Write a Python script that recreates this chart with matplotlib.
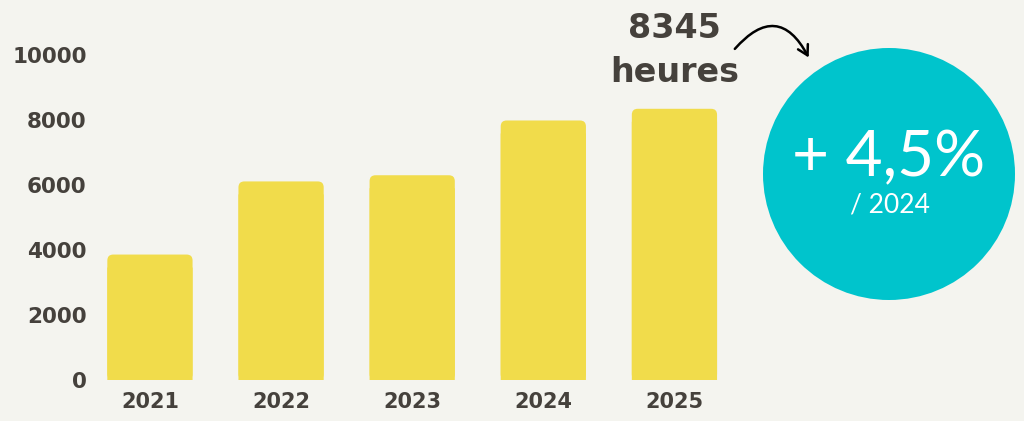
import matplotlib
matplotlib.use("Agg")
from matplotlib import pyplot as plt
from matplotlib.patches import FancyBboxPatch, Circle, FancyArrowPatch

# data
years = ["2021", "2022", "2023", "2024", "2025"]
hours = [3860, 6110, 6300, 7985, 8345]
yticks = [0, 2000, 4000, 6000, 8000, 10000]

bg = "#f4f4ef"
bar_color = "#f1dc4b"
teal = "#00c4cc"
dark = "#45413c"

W, H = 1024, 421
fig = plt.figure(figsize=(W / 100, H / 100), dpi=100, facecolor=bg)

# main axes, placed in pixels
left, right, bottom, top = 95, 740, 380, 55
ax = fig.add_axes([left / W, (H - bottom) / H, (right - left) / W, (bottom - top) / H])
ax.set_facecolor(bg)
ax.set_xlim(-(150 - left) / 131.25, 4.5)
ax.set_ylim(0, 10000)

# rounded-top bars
bw = 0.65
asp = (10000 / (bottom - top)) * 131.25
for i, h in enumerate(hours):
    p = FancyBboxPatch((i - bw / 2, 0), bw, h,
                       boxstyle="round,pad=0,rounding_size=0.045",
                       mutation_aspect=asp, fc=bar_color, ec="none")
    ax.add_patch(p)
    ax.bar(i, h - 400, width=bw, color=bar_color, snap=False, linewidth=0)

ax.set_xticks(range(len(years)))
ax.set_xticklabels(years)
ax.set_yticks(yticks)
ax.tick_params(axis="y", length=0, pad=6, labelsize=15.5, labelcolor=dark)
ax.tick_params(axis="x", length=0, pad=9, labelsize=15, labelcolor=dark)
for lab in ax.get_xticklabels() + ax.get_yticklabels():
    lab.set_fontweight("bold")
for s in ax.spines.values():
    s.set_visible(False)

# label above last bar
ax.annotate(f"{hours[-1]}", xy=(4, hours[-1]), xytext=(0, 58), textcoords="offset points",
            ha="center", va="center", fontsize=24, fontweight="bold", color=dark)
ax.annotate("heures", xy=(4, hours[-1]), xytext=(0, 26), textcoords="offset points",
            ha="center", va="center", fontsize=24, fontweight="bold", color=dark)

# overlay in pixel coords for the bubble
ov = fig.add_axes([0, 0, 1, 1])
ov.set_xlim(0, W)
ov.set_ylim(H, 0)
ov.axis("off")
ov.patch.set_alpha(0)

ov.add_patch(Circle((889, 174), 126, fc=teal, ec="none"))
pct = (hours[-1] - hours[-2]) / hours[-2] * 100
pct_txt = f"{pct:.1f}".replace(".", ",")
ov.text(889, 158, f"+ {pct_txt}%", ha="center", va="center", color="white",
        fontsize=46, family="Lato", fontweight="normal")
ov.text(890, 205, f"/ {years[-2]}", ha="center", va="center", color="white",
        fontsize=19, family="Lato")

arr = FancyArrowPatch((733, 51), (810, 60), connectionstyle="arc3,rad=-0.75",
                      arrowstyle="->,head_length=7,head_width=4", color="black",
                      lw=1.8, mutation_scale=1)
ov.add_patch(arr)

fig.savefig("out.png", dpi=100, facecolor=bg)
